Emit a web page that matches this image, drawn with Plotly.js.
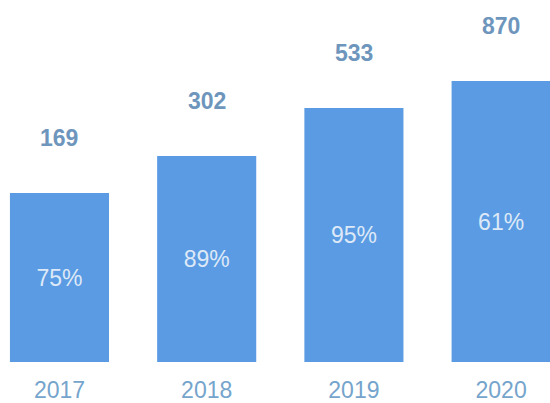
<!DOCTYPE html>
<html>
<head>
<meta charset="utf-8">
<script src="https://cdn.plot.ly/plotly-3.0.1.min.js"></script>
<style>html,body{margin:0;padding:0;background:#fff;}#chart{width:550px;height:403px;}</style>
</head>
<body>
<div id="chart"></div>
<script>
// Data
var years = ['2017', '2018', '2019', '2020'];
var totals = [169, 302, 533, 870];
var shares = ['75%', '89%', '95%', '61%'];
var barHeights = [169, 206, 254, 281]; // drawn bar heights (relative units, as pictured)

var trace = {
  type: 'bar',
  x: years,
  y: barHeights,
  text: shares,
  texttemplate: '%{text}',
  textposition: 'inside',
  insidetextanchor: 'middle',
  textangle: 0,
  constraintext: 'none',
  insidetextfont: {family: 'Liberation Sans, Arial, sans-serif', size: 23, color: '#dde9f7'},
  marker: {color: '#5b9be3', line: {width: 0}},
  hoverinfo: 'skip'
};

var annotations = years.map(function (yr, i) {
  return {
    x: i, y: barHeights[i], xref: 'x', yref: 'y',
    text: '<b>' + totals[i] + '</b>', showarrow: false,
    yanchor: 'middle', yshift: 55,
    font: {family: 'Liberation Sans, Arial, sans-serif', size: 23, color: '#6e96bd'}
  };
});

var layout = {
  width: 550, height: 403,
  margin: {l: 0, r: 0, t: 0, b: 41},
  paper_bgcolor: '#ffffff', plot_bgcolor: '#ffffff',
  showlegend: false,
  bargap: 0.327,
  xaxis: {
    type: 'category', range: [-0.404, 3.332],
    showgrid: false, zeroline: false, showline: false, ticks: '',
    ticklabelstandoff: 12,
    tickfont: {family: 'Liberation Sans, Arial, sans-serif', size: 23, color: '#75a4cc'}
  },
  yaxis: {range: [0, 362], showticklabels: false, showgrid: false, zeroline: false, showline: false, ticks: ''},
  annotations: annotations
};

Plotly.newPlot('chart', [trace], layout, {displayModeBar: false, staticPlot: true});
</script>
</body>
</html>
